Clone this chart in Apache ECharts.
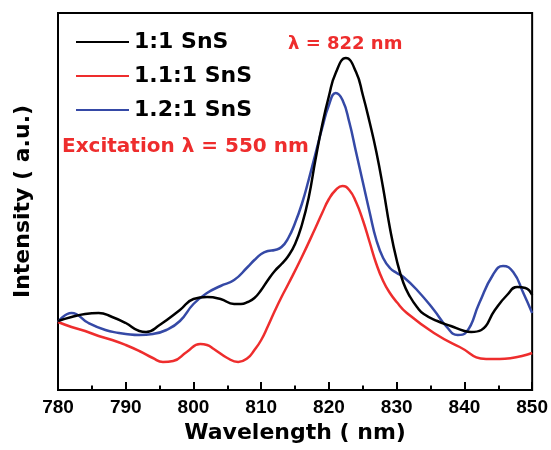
<!DOCTYPE html>
<html>
<head>
<meta charset="utf-8">
<script src="https://cdn.jsdelivr.net/npm/echarts@6/dist/echarts.min.js"></script>
<style>
  html, body { margin: 0; padding: 0; background: #fff; }
  #chart { width: 551px; height: 450px; }
</style>
</head>
<body>
<div id="chart"></div>
<script>
// Photoluminescence spectra of SnS samples, intensity in arbitrary units
const seriesNames = ['1:1 SnS', '1.1:1 SnS', '1.2:1 SnS'];
const seriesColors = ['#000000', '#ee2d2d', '#3549a6'];

const wl_1_1 = [780, 782, 784, 786, 788, 790, 792, 793, 795, 798, 800, 802, 804, 806, 807, 808, 809, 810, 811, 812, 813, 814, 815, 816, 817, 818, 819, 820, 821, 822.5, 824, 825, 826, 827, 828, 829, 830, 831, 832, 833, 834, 836, 838, 840, 841, 842.5, 844.5, 846.3, 847.8, 849, 850];
const int_1_1 = [69, 73, 76, 77, 73, 67, 59, 58, 65, 80, 91, 93, 91, 86, 86, 88, 92, 100, 110, 119, 126, 134, 146, 165, 192, 230, 265, 294, 317, 332, 318, 295, 268, 238, 202, 162, 130, 107, 93, 83, 76, 69, 64, 59, 58, 60, 80, 95, 103, 102, 95];

const wl_1_1_1 = [780, 782, 784, 786, 788, 790, 792, 794, 795.5, 797, 799, 801, 802, 803, 805, 806.6, 808, 809, 810, 811, 812, 813, 814, 816, 818, 819, 820, 821, 822, 823, 824, 825, 826, 827, 828, 829, 830, 831.5, 835.5, 839.3, 843.2, 845.2, 850];
const int_1_1_1 = [68, 63, 59, 54, 50, 45, 39, 32, 28, 29, 38, 46, 45, 41, 32, 28, 32, 40, 50, 64, 79, 93, 106, 133, 162, 177, 191, 200, 204, 200, 188, 170, 148, 126, 109, 97, 88, 77, 57, 43, 31, 31, 37];

const wl_1_2_1 = [780, 782, 784.5, 787, 789, 790, 792, 794, 796, 798, 800, 802, 804, 806, 808, 809, 810, 811, 812, 813, 814, 815, 816, 817, 818, 819, 820, 821, 822, 823, 824, 825, 826, 827, 828, 829, 830, 831, 833, 835.5, 837.4, 839, 840.3, 842.2, 844.2, 845.7, 847.2, 848.7, 850];
const int_1_2_1 = [68, 77, 67, 60, 57, 56, 55, 56, 60, 69, 86, 97, 104, 110, 123, 130, 136, 139, 140, 143, 152, 167, 186, 210, 236, 262, 285, 297, 290, 268, 238, 208, 178, 150, 132, 122, 117, 113, 100, 80, 63, 55, 58, 87, 115, 124, 118, 97, 77];

const xTicks = { min: 780, max: 850, step: 10 };

function pairs(xs, ys) { return xs.map((x, i) => [x, ys[i]]); }

const chart = echarts.init(document.getElementById('chart'), null, { renderer: 'canvas' });

const titleFont = 'DejaVu Sans';

chart.setOption({
  animation: false,
  backgroundColor: '#ffffff',
  grid: {
    left: 58, right: 15, top: 13, bottom: 60,
    show: true, borderColor: '#000', borderWidth: 2, backgroundColor: 'transparent'
  },
  legend: {
    orient: 'vertical',
    left: 71, top: 26,
    itemWidth: 53, itemHeight: 14, itemGap: 12,
    icon: 'path://M0,6L53,6L53,8L0,8Z',
    textStyle: { fontFamily: titleFont, fontWeight: 'bold', fontSize: 22, color: '#000', lineHeight: 22 },
    data: seriesNames
  },
  xAxis: {
    type: 'value',
    min: xTicks.min, max: xTicks.max, interval: xTicks.step,
    name: 'Wavelength ( nm)', nameLocation: 'middle', nameGap: 20,
    nameTextStyle: { fontFamily: titleFont, fontWeight: 'bold', fontSize: 22, color: '#000' },
    axisLine: { show: true, lineStyle: { color: '#000', width: 2 } },
    axisTick: { show: true, inside: true, length: 8, lineStyle: { color: '#000', width: 2 } },
    minorTick: { show: true, splitNumber: 2, length: 4.5, lineStyle: { color: '#000', width: 2 } },
    axisLabel: { margin: 8, fontFamily: 'Liberation Sans', fontWeight: 'bold', fontSize: 19, color: '#000' },
    splitLine: { show: false }
  },
  yAxis: {
    type: 'value', min: 0, max: 377,
    name: 'Intensity ( a.u.)', nameLocation: 'middle', nameGap: 24, nameRotate: 90,
    nameTextStyle: { fontFamily: titleFont, fontWeight: 'bold', fontSize: 22, color: '#000' },
    axisLine: { show: true, lineStyle: { color: '#000', width: 2 } },
    axisTick: { show: false },
    axisLabel: { show: false },
    splitLine: { show: false }
  },
  graphic: [
    {
      type: 'text', left: 62, top: 137,
      style: { text: 'Excitation λ = 550 nm', fill: '#ee2d2d', font: 'bold 20px "DejaVu Sans"' }
    },
    {
      type: 'text', left: 288, top: 35,
      style: { text: 'λ = 822 nm', fill: '#ee2d2d', font: 'bold 18px "DejaVu Sans"' }
    }
  ],
  series: [
    { name: seriesNames[0], data: pairs(wl_1_1, int_1_1) },
    { name: seriesNames[1], data: pairs(wl_1_1_1, int_1_1_1) },
    { name: seriesNames[2], data: pairs(wl_1_2_1, int_1_2_1) }
  ].map((s, i) => ({
    ...s,
    type: 'line',
    smooth: 0.5,
    showSymbol: false,
    symbol: 'none',
    color: seriesColors[i],
    lineStyle: { color: seriesColors[i], width: 2.5 },
    z: i === 0 ? 4 : 3 - i + 1
  }))
});
</script>
</body>
</html>
